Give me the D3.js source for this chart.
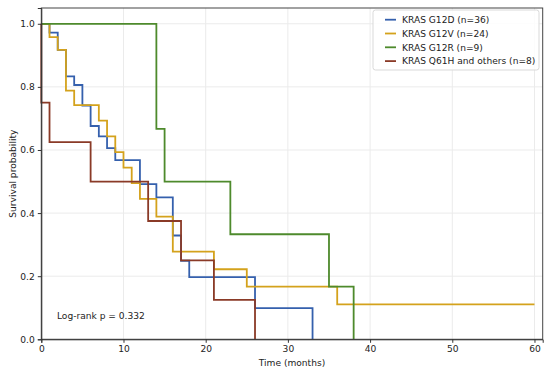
<!DOCTYPE html>
<html>
<head>
<meta charset="utf-8">
<script src="https://cdn.jsdelivr.net/npm/d3@7"></script>
<style>
  body { margin: 0; background: #fff; }
  svg { font-family: "DejaVu Sans", sans-serif; }
</style>
</head>
<body>
<figure id="km" style="margin:0"></figure>
<script>
// step data (time in months, survival probability)
const g12dTime = [0, 1, 2, 3, 4, 5, 6, 7, 8, 9, 12, 14, 16, 17, 18, 26, 33];
const g12dSurv = [1, 0.972, 0.917, 0.833, 0.806, 0.741, 0.676, 0.643, 0.606, 0.568, 0.492, 0.45, 0.329, 0.249, 0.197, 0.099, 0];
const g12vTime = [0, 1, 2, 3, 4, 7, 8, 9, 10, 11, 12, 14, 16, 21, 25, 36, 60];
const g12vSurv = [1, 0.958, 0.917, 0.788, 0.742, 0.693, 0.643, 0.593, 0.544, 0.495, 0.445, 0.389, 0.278, 0.222, 0.167, 0.111, 0.111];
const g12rTime = [0, 14, 15, 23, 35, 38];
const g12rSurv = [1, 0.667, 0.5, 0.333, 0.167, 0];
const q61hTime = [0, 0, 1, 6, 13, 17, 21, 26];
const q61hSurv = [1, 0.75, 0.625, 0.5, 0.375, 0.25, 0.125, 0];

const seriesNames = ['KRAS G12D (n=36)', 'KRAS G12V (n=24)', 'KRAS G12R (n=9)', 'KRAS Q61H and others (n=8)'];
const seriesColors = ['#3560ad', '#d4a21c', '#4e8a2c', '#8a3a27'];
const xTicks = [0, 10, 20, 30, 40, 50, 60];
const yTicks = [0, 0.2, 0.4, 0.6, 0.8, 1.0];

const series = [
  [g12dTime, g12dSurv], [g12vTime, g12vSurv], [g12rTime, g12rSurv], [q61hTime, q61hSurv]
].map(([t, s], i) => ({
  name: seriesNames[i],
  color: seriesColors[i],
  points: t.map((d, j) => ({t: d, s: s[j]}))
}));

const W = 550, H = 374;
const margin = {top: 8, right: 7.3, bottom: 34.7, left: 41.3};
const width = W - margin.left - margin.right;
const height = H - margin.top - margin.bottom;
const fs = '9.1px';

const svg = d3.select('figure#km')
  .append('svg')
  .attr('width', W)
  .attr('height', H);
const g = svg.append('g')
  .attr('transform', 'translate(' + margin.left + ',' + margin.top + ')');

const x = d3.scaleLinear().domain([0, 61]).range([0, width]);
const y = d3.scaleLinear().domain([0, 1.05]).range([height, 0]);

// grid
g.append('g').selectAll('line')
  .data(xTicks)
  .enter().append('line')
  .attr('x1', d => x(d)).attr('x2', d => x(d))
  .attr('y1', 0).attr('y2', height)
  .attr('stroke', '#ebebeb').attr('stroke-width', 1);
g.append('g').selectAll('line')
  .data(yTicks)
  .enter().append('line')
  .attr('x1', 0).attr('x2', width)
  .attr('y1', d => y(d)).attr('y2', d => y(d))
  .attr('stroke', '#ebebeb').attr('stroke-width', 1);

// curves
const line = d3.line()
  .x(d => x(d.t))
  .y(d => y(d.s))
  .curve(d3.curveStepAfter);
g.append('g').selectAll('path')
  .data(series)
  .enter().append('path')
  .attr('d', d => line(d.points))
  .attr('fill', 'none')
  .attr('stroke', d => d.color)
  .attr('stroke-width', 1.8);

// frame
g.append('rect')
  .attr('width', width).attr('height', height)
  .attr('fill', 'none')
  .attr('stroke', '#444').attr('stroke-width', 1);

// axes
const xAxis = g.append('g')
  .attr('transform', 'translate(0,' + height + ')')
  .call(d3.axisBottom(x).tickValues(xTicks).tickSize(3.5).tickPadding(3).tickFormat(d3.format('d')));
const yAxis = g.append('g')
  .call(d3.axisLeft(y).tickValues(yTicks).tickSize(3.5).tickPadding(3).tickFormat(d3.format('.1f')));
[xAxis, yAxis].forEach(a => {
  a.select('.domain').attr('stroke', '#333');
  a.selectAll('.tick line').attr('stroke', '#333');
  a.selectAll('.tick text')
    .attr('fill', '#222')
    .style('font-size', fs)
    .style('font-family', '"DejaVu Sans", sans-serif');
});

// labels
g.append('text')
  .attr('x', width / 2).attr('y', height + 27)
  .attr('text-anchor', 'middle')
  .attr('fill', '#222')
  .style('font-size', fs)
  .text('Time (months)');
svg.append('text')
  .attr('transform', 'translate(16,' + (margin.top + height / 2) + ') rotate(-90)')
  .attr('text-anchor', 'middle')
  .attr('fill', '#222')
  .style('font-size', fs)
  .text('Survival probability');

g.append('text')
  .attr('x', x(1.9)).attr('y', y(0.063))
  .attr('fill', '#222')
  .style('font-size', fs)
  .text('Log-rank p = 0.332');

// legend
const legend = svg.append('g').attr('transform', 'translate(373,10)');
legend.append('rect')
  .attr('width', 166).attr('height', 60)
  .attr('rx', 2.5)
  .attr('fill', '#fff').attr('fill-opacity', 0.85)
  .attr('stroke', '#d9d9d9');
const items = legend.selectAll('g.item')
  .data(series)
  .enter().append('g')
  .attr('class', 'item')
  .attr('transform', (d, i) => 'translate(0,' + (9.7 + i * 13.8) + ')');
items.append('line')
  .attr('x1', 12).attr('x2', 23)
  .attr('stroke', d => d.color).attr('stroke-width', 1.8);
items.append('text')
  .attr('x', 29).attr('y', 3.3)
  .attr('fill', '#222')
  .style('font-size', fs)
  .text(d => d.name);
</script>
</body>
</html>
